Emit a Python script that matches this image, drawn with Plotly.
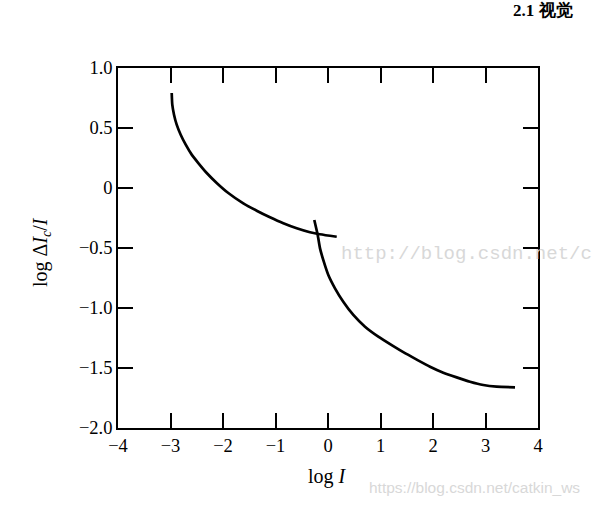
import plotly.graph_objects as go

# Curve 1 (low-intensity branch)
curve1_x = [-2.977, -2.966, -2.933, -2.882, -2.806, -2.710, -2.596, -2.470, -2.310, -2.120,
            -1.899, -1.613, -1.358, -1.105, -0.851, -0.596, -0.343, -0.185, 0.038, 0.166]
curve1_y = [0.792, 0.694, 0.611, 0.528, 0.444, 0.361, 0.278, 0.208, 0.125, 0.042,
            -0.042, -0.128, -0.189, -0.244, -0.294, -0.336, -0.369, -0.383, -0.398, -0.406]

# Curve 2 (high-intensity branch)
curve2_x = [-0.261, -0.196, -0.152, -0.080, 0.006, 0.133, 0.291, 0.482, 0.705, 0.958,
            1.244, 1.434, 1.690, 1.943, 2.196, 2.451, 2.705, 2.958, 3.213, 3.562]
curve2_y = [-0.267, -0.392, -0.503, -0.614, -0.725, -0.836, -0.948, -1.058, -1.156, -1.239,
            -1.318, -1.368, -1.430, -1.489, -1.539, -1.578, -1.614, -1.642, -1.656, -1.661]

x_tickvals = [-4, -3, -2, -1, 0, 1, 2, 3, 4]
x_ticktext = ["\u22124", "\u22123", "\u22122", "\u22121", "0", "1", "2", "3", "4"]
y_tickvals = [1.0, 0.5, 0, -0.5, -1.0, -1.5, -2.0]
y_ticktext = ["1.0", "0.5", "0", "\u22120.5", "\u22121.0", "\u22121.5", "\u22122.0"]

W, H = 592, 505
L, R, T, B = 118, 538, 68, 428

def px(x):
    return (x - L) / (R - L)

def py(y):
    return (B - y) / (B - T)

fig = go.Figure()
for xs, ys in [(curve1_x, curve1_y), (curve2_x, curve2_y)]:
    fig.add_trace(go.Scatter(x=xs, y=ys, mode="lines",
                             line=dict(color="black", width=2.7, shape="spline", smoothing=0.5),
                             showlegend=False, hoverinfo="skip"))

serif = "Liberation Serif, Times New Roman, serif"
axis_common = dict(showgrid=False, zeroline=False, showline=True, linecolor="black",
                   linewidth=1.6, mirror="ticks", ticks="inside", ticklen=15,
                   tickwidth=1.6, tickcolor="black",
                   tickfont=dict(family=serif, size=18.5, color="black"))

fig.update_layout(
    width=W, height=H,
    margin=dict(l=L, r=W - R, t=T, b=H - B, pad=0),
    paper_bgcolor="white", plot_bgcolor="white",
    xaxis=dict(range=[-4, 4], tickvals=x_tickvals, ticktext=x_ticktext, **axis_common),
    yaxis=dict(range=[-2.0, 1.0], tickvals=y_tickvals, ticktext=y_ticktext, **axis_common),
)

annotations = [
    dict(x=px(41), y=py(252), xanchor="center", yanchor="middle",
         text="log \u0394<i>I</i><sub><i>c</i></sub>/<i>I</i>",
         textangle=-90, font=dict(family=serif, size=20, color="black")),
    dict(x=px(327), y=py(476), xanchor="center", yanchor="middle", text="log <i>I</i>",
         font=dict(family=serif, size=20, color="black")),
    dict(x=px(511), y=py(11), xanchor="left", yanchor="middle", text="<b>2.1</b> <b>视觉</b>",
         font=dict(family=serif, size=17, color="black")),
    dict(x=px(339), y=py(254), xanchor="left", yanchor="middle",
         text="http://blog.csdn.net/c",
         font=dict(family="Liberation Mono, monospace", size=19, color="#d8d8d8")),
    dict(x=px(367), y=py(487), xanchor="left", yanchor="middle",
         text="https://blog.csdn.net/catkin_ws",
         font=dict(family="Liberation Sans, Arial, sans-serif", size=15.5, color="#d8d8d8")),
]
for a in annotations:
    a.update(xref="paper", yref="paper", showarrow=False)
fig.update_layout(annotations=annotations)

fig.write_html("out.html",
               config={"displayModeBar": False},
               post_script="document.body.style.margin='0px';document.body.style.overflow='hidden';")
